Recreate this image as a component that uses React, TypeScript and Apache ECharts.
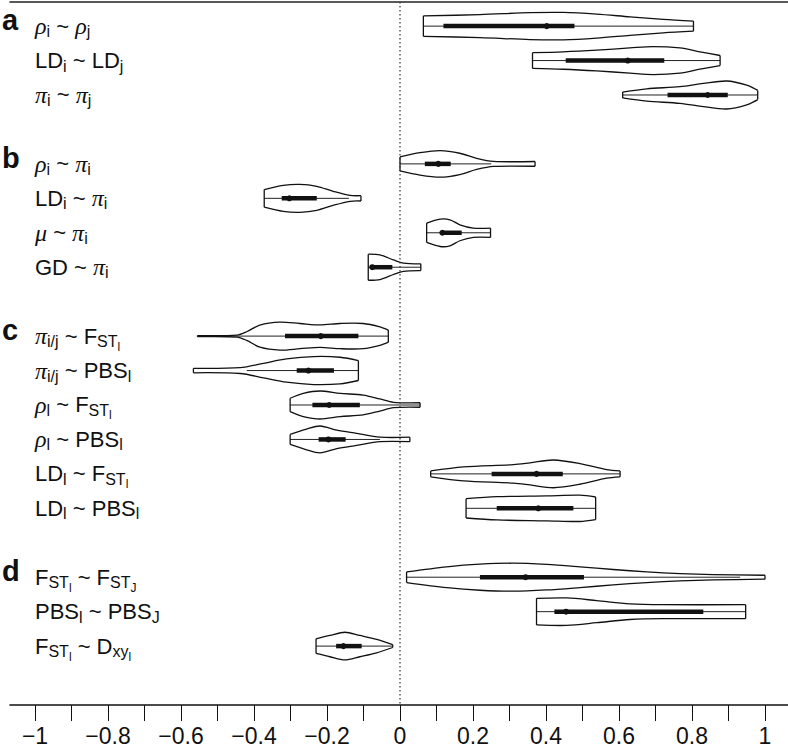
import React, { useEffect, useRef } from "react";
import * as echarts from "echarts";

// ---------- data ----------
const GROUPS = ["a", "b", "c", "d"];
const GROUP_OF = [0, 0, 0, 1, 1, 1, 1, 2, 2, 2, 2, 2, 2, 3, 3, 3];

type Seg = [string, "n" | "g" | "s" | "ss"];
const LABELS: Seg[][] = [
  [["ρ", "g"], ["i", "s"], [" ~ ", "n"], ["ρ", "g"], ["j", "s"]],
  [["LD", "n"], ["i", "s"], [" ~ ", "n"], ["LD", "n"], ["j", "s"]],
  [["π", "g"], ["i", "s"], [" ~ ", "n"], ["π", "g"], ["j", "s"]],
  [["ρ", "g"], ["i", "s"], [" ~ ", "n"], ["π", "g"], ["i", "s"]],
  [["LD", "n"], ["i", "s"], [" ~ ", "n"], ["π", "g"], ["i", "s"]],
  [["μ", "g"], [" ~ ", "n"], ["π", "g"], ["i", "s"]],
  [["GD", "n"], [" ~ ", "n"], ["π", "g"], ["i", "s"]],
  [["π", "g"], ["i/j", "s"], [" ~ ", "n"], ["F", "n"], ["ST", "s"], ["l", "ss"]],
  [["π", "g"], ["i/j", "s"], [" ~ ", "n"], ["PBS", "n"], ["l", "s"]],
  [["ρ", "g"], ["l", "s"], [" ~ ", "n"], ["F", "n"], ["ST", "s"], ["l", "ss"]],
  [["ρ", "g"], ["l", "s"], [" ~ ", "n"], ["PBS", "n"], ["l", "s"]],
  [["LD", "n"], ["l", "s"], [" ~ ", "n"], ["F", "n"], ["ST", "s"], ["l", "ss"]],
  [["LD", "n"], ["l", "s"], [" ~ ", "n"], ["PBS", "n"], ["l", "s"]],
  [["F", "n"], ["ST", "s"], ["l", "ss"], [" ~ ", "n"], ["F", "n"], ["ST", "s"], ["J", "ss"]],
  [["PBS", "n"], ["l", "s"], [" ~ ", "n"], ["PBS", "n"], ["J", "s"]],
  [["F", "n"], ["ST", "s"], ["l", "ss"], [" ~ ", "n"], ["D", "n"], ["xy", "s"], ["l", "ss"]],
];

// density profiles: [value, relative density]
const DENS_RHO_RHO = [[0.064, 0.73], [0.219, 0.82], [0.356, 0.96], [0.447, 0.98], [0.539, 0.86], [0.63, 0.66], [0.721, 0.48], [0.804, 0.36]];
const DENS_LD_LD = [[0.363, 0.56], [0.447, 0.62], [0.539, 0.74], [0.63, 0.9], [0.694, 1.0], [0.767, 0.9], [0.822, 0.62], [0.877, 0.36]];
const DENS_PI_PI = [[0.61, 0.21], [0.676, 0.44], [0.767, 0.6], [0.831, 0.83], [0.895, 1.0], [0.95, 0.71], [0.98, 0.33]];
const DENS_RHO_PI = [[0.0, 0.5], [0.055, 0.8], [0.11, 0.95], [0.164, 0.76], [0.21, 0.4], [0.256, 0.18], [0.37, 0.17]];
const DENS_LD_PI = [[-0.372, 0.63], [-0.32, 0.93], [-0.274, 1.0], [-0.228, 0.86], [-0.183, 0.5], [-0.137, 0.21], [-0.107, 0.19]];
const DENS_MU_PI = [[0.073, 0.69], [0.11, 0.98], [0.137, 0.93], [0.164, 0.57], [0.201, 0.33], [0.248, 0.33]];
const DENS_GD_PI = [[-0.087, 0.93], [-0.055, 0.88], [-0.018, 0.52], [0.009, 0.29], [0.057, 0.24]];
const DENS_PIIJ_FST = [[-0.555, 0.04], [-0.447, 0.07], [-0.42, 0.31], [-0.384, 0.79], [-0.329, 1.0], [-0.274, 0.9], [-0.219, 0.8], [-0.164, 0.9], [-0.101, 0.9], [-0.055, 0.66], [-0.032, 0.43]];
const DENS_PIIJ_PBS = [[-0.566, 0.16], [-0.438, 0.21], [-0.374, 0.52], [-0.311, 0.83], [-0.237, 1.0], [-0.164, 0.95], [-0.114, 0.71]];
const DENS_RHO_FST = [[-0.301, 0.48], [-0.265, 0.83], [-0.219, 1.0], [-0.164, 0.83], [-0.101, 0.71], [-0.055, 0.43], [-0.018, 0.19], [0.055, 0.16]];
const DENS_RHO_PBS = [[-0.301, 0.36], [-0.256, 0.74], [-0.219, 0.96], [-0.173, 0.66], [-0.119, 0.43], [-0.055, 0.16], [0.027, 0.16]];
const DENS_LD_FST = [[0.084, 0.21], [0.174, 0.5], [0.311, 0.66], [0.356, 0.79], [0.42, 0.99], [0.493, 0.74], [0.566, 0.31], [0.603, 0.21]];
const DENS_LD_PBS = [[0.181, 0.69], [0.265, 0.83], [0.402, 0.89], [0.493, 0.94], [0.536, 0.81]];
const DENS_FST_FST = [[0.018, 0.38], [0.128, 0.74], [0.219, 0.93], [0.311, 1.0], [0.402, 0.91], [0.493, 0.74], [0.584, 0.55], [0.676, 0.38], [0.767, 0.26], [0.858, 0.19], [1.0, 0.14]];
const DENS_PBS_PBS = [[0.374, 0.95], [0.457, 0.98], [0.539, 0.79], [0.63, 0.56], [0.721, 0.5], [0.947, 0.5]];
const DENS_FST_DXY = [[-0.23, 0.52], [-0.192, 0.76], [-0.151, 0.99], [-0.11, 0.76], [-0.064, 0.48], [-0.02, 0.1]];

const PROFILES = [
  DENS_RHO_RHO, DENS_LD_LD, DENS_PI_PI,
  DENS_RHO_PI, DENS_LD_PI, DENS_MU_PI, DENS_GD_PI,
  DENS_PIIJ_FST, DENS_PIIJ_PBS, DENS_RHO_FST, DENS_RHO_PBS, DENS_LD_FST, DENS_LD_PBS,
  DENS_FST_FST, DENS_PBS_PBS, DENS_FST_DXY,
];

const Q1 = [0.119, 0.454, 0.733, 0.068, -0.324, 0.114, -0.076, -0.315, -0.283, -0.24, -0.223, 0.251, 0.265, 0.219, 0.423, -0.175];
const MEDIAN = [0.402, 0.624, 0.843, 0.105, -0.303, 0.116, -0.076, -0.217, -0.251, -0.194, -0.196, 0.374, 0.379, 0.344, 0.455, -0.155];
const Q3 = [0.478, 0.724, 0.898, 0.139, -0.228, 0.169, -0.021, -0.114, -0.181, -0.11, -0.149, 0.446, 0.475, 0.504, 0.831, -0.105];
const WHISKER_LO = [0.064, 0.363, 0.61, 0.0, -0.372, 0.073, -0.087, -0.555, -0.42, -0.301, -0.301, 0.084, 0.181, 0.018, 0.374, -0.23];
const WHISKER_HI = [0.804, 0.877, 0.98, 0.25, -0.14, 0.248, 0.057, -0.032, -0.114, 0.055, -0.055, 0.603, 0.536, 0.932, 0.947, -0.02];

const TICK_VALUES = [-1, -0.9, -0.8, -0.7, -0.6, -0.5, -0.4, -0.3, -0.2, -0.1, 0, 0.1, 0.2, 0.3, 0.4, 0.5, 0.6, 0.7, 0.8, 0.9, 1];
const TICK_LABELS = [-1, -0.8, -0.6, -0.4, -0.2, 0, 0.2, 0.4, 0.6, 0.8, 1];

// ---------- layout / style constants ----------
const X_MIN = -1.0685;
const X_MAX = 1.063;
const Y_MIN = -0.7;
const Y_MAX = 19.71;
const HALF_SLOT = 0.4065;
const LABEL_X = 35;
const INK = "#111";

const SEG_STYLE: Record<string, { size: number; family: string; italic: boolean; dy: number }> = {
  n: { size: 22, family: "'Liberation Sans', Arial, sans-serif", italic: false, dy: 0 },
  g: { size: 24, family: "'Liberation Serif', 'Times New Roman', serif", italic: true, dy: 0 },
  s: { size: 16, family: "'Liberation Sans', Arial, sans-serif", italic: false, dy: 5.5 },
  ss: { size: 12, family: "'Liberation Sans', Arial, sans-serif", italic: false, dy: 10.5 },
};

let measureCtx: CanvasRenderingContext2D | null = null;
function measure(text: string, font: string): number {
  if (!measureCtx) measureCtx = document.createElement("canvas").getContext("2d");
  if (!measureCtx) return text.length * 10;
  measureCtx.font = font;
  return measureCtx.measureText(text).width;
}

function fmt(v: number): string {
  const s = String(Math.abs(Math.round(v * 10) / 10));
  return (v < 0 ? "−" : "") + s;
}

export default function App() {
  const ref = useRef<HTMLDivElement>(null);
  useEffect(() => {
    const el = ref.current;
    if (!el) return;
    const chart = echarts.init(el, null, { renderer: "svg" });

    const data = MEDIAN.map((m, i) => [m, i + GROUP_OF[i]]);

    const renderItem = (params: any, api: any) => {
      const i = params.dataIndex;
      const slot = i + GROUP_OF[i];
      const prof = PROFILES[i];
      const half = api.size([0, HALF_SLOT])[1];
      const cy = api.coord([0, slot])[1];
      const top = prof.map(([x, d]) => {
        const p = api.coord([x, slot]);
        return [p[0], p[1] - d * half];
      });
      const bot = prof.map(([x, d]) => {
        const p = api.coord([x, slot]);
        return [p[0], p[1] + d * half];
      });
      const n = top.length;
      const outline = { stroke: INK, lineWidth: 1.3, fill: "none" };
      const children: any[] = [
        {
          type: "line",
          shape: { x1: api.coord([WHISKER_LO[i], slot])[0], y1: cy, x2: api.coord([WHISKER_HI[i], slot])[0], y2: cy },
          style: { stroke: "#222", lineWidth: 1 },
        },
        { type: "polyline", shape: { points: top, smooth: 0.3 }, style: outline },
        { type: "polyline", shape: { points: bot, smooth: 0.3 }, style: outline },
        { type: "line", shape: { x1: top[0][0], y1: top[0][1], x2: bot[0][0], y2: bot[0][1] }, style: outline },
        { type: "line", shape: { x1: top[n - 1][0], y1: top[n - 1][1], x2: bot[n - 1][0], y2: bot[n - 1][1] }, style: outline },
        {
          type: "line",
          shape: { x1: api.coord([Q1[i], slot])[0], y1: cy, x2: api.coord([Q3[i], slot])[0], y2: cy },
          style: { stroke: INK, lineWidth: 4.5 },
        },
        { type: "circle", shape: { cx: api.coord([MEDIAN[i], slot])[0], cy, r: 3 }, style: { fill: INK } },
      ];

      // row label
      let x = LABEL_X;
      for (const [txt, kind] of LABELS[i]) {
        const st = SEG_STYLE[kind];
        const font = `${st.italic ? "italic " : ""}${st.size}px ${st.family}`;
        children.push({
          type: "text",
          x,
          y: cy + st.dy,
          style: {
            text: txt,
            fontSize: st.size,
            fontFamily: st.family,
            fontStyle: st.italic ? "italic" : "normal",
            fill: INK,
            align: "left",
            verticalAlign: "middle",
          },
        });
        x += measure(txt, font);
      }

      // group letter on the first row of each group
      if (i === 0 || GROUP_OF[i] !== GROUP_OF[i - 1]) {
        children.push({
          type: "text",
          x: 2,
          y: cy - 6,
          style: {
            text: GROUPS[GROUP_OF[i]],
            fontSize: 29,
            fontWeight: "bold",
            fontFamily: "'Liberation Sans', Arial, sans-serif",
            fill: INK,
            align: "left",
            verticalAlign: "middle",
          },
        });
      }
      return { type: "group", children };
    };

    chart.setOption({
      animation: false,
      backgroundColor: "#fff",
      grid: { left: 10, right: 0, top: 2, bottom: 47, containLabel: false },
      xAxis: [
        {
          type: "value",
          min: X_MIN,
          max: X_MAX,
          position: "bottom",
          splitLine: { show: false },
          axisLine: { show: true, onZero: false, lineStyle: { color: INK, width: 1.6 } },
          axisTick: { show: true, customValues: TICK_VALUES, length: 16, lineStyle: { color: INK, width: 1 } },
          axisLabel: {
            show: true,
            customValues: TICK_LABELS,
            formatter: (v: number) => fmt(v),
            color: INK,
            fontSize: 23,
            fontFamily: "'Liberation Sans', Arial, sans-serif",
            margin: 19,
          },
        },
        {
          type: "value",
          min: X_MIN,
          max: X_MAX,
          position: "top",
          splitLine: { show: false },
          axisLine: { show: true, onZero: false, lineStyle: { color: "#222", width: 1.6 } },
          axisTick: { show: false },
          axisLabel: { show: false },
        },
      ],
      yAxis: { type: "value", min: Y_MIN, max: Y_MAX, inverse: true, show: false },
      series: [
        {
          type: "line",
          xAxisIndex: 0,
          data: [[0, Y_MIN], [0, Y_MAX]],
          symbol: "none",
          silent: true,
          lineStyle: { type: [1.5, 2.5], color: "#333", width: 1.2 },
        },
        {
          type: "custom",
          xAxisIndex: 0,
          renderItem,
          data,
          encode: { x: 0, y: 1 },
          silent: true,
        },
      ],
    });
    return () => chart.dispose();
  }, []);
  return (
    <div
      ref={ref}
      style={{ position: "fixed", left: 0, top: 0, width: 788, height: 752, background: "#fff" }}
    />
  );
}
